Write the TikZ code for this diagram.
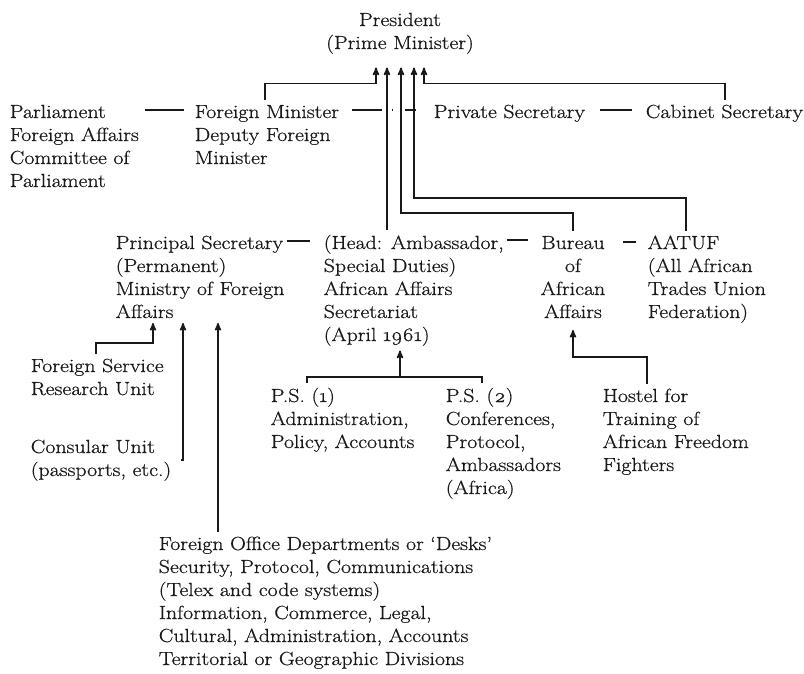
\documentclass[tikz,border=0pt]{standalone}
\usepackage{fontspec}
\setmainfont{Latin Modern Roman}[FakeStretch=1.15, FakeBold=0.7]
\usepackage{tikz}
\usetikzlibrary{arrows}
\definecolor{ink}{RGB}{25,25,25}
\newcommand{\osn}[1]{{\addfontfeature{Numbers=OldStyle}#1}}

\begin{document}
\begin{tikzpicture}[x=1pt,y=-1pt,>=stealth',line width=1.6pt]
    \tikzstyle{unit}=[inner xsep=0pt, inner ysep=4pt, anchor=base west, align=left, text=ink, font=\fontsize{19}{23}\selectfont]
    \tikzstyle{mid}=[style=unit, anchor=base, align=center]
    \tikzstyle{link}=[draw=ink]
    \tikzstyle{feed}=[draw=ink, ->]

    \useasboundingbox (0,0) rectangle (804,673);

    % positions are given at the baseline of the last line
    \node[mid]  (pres)     at (400,49)  {President\\(Prime Minister)};
    \node[unit] (parl)     at (9,187)   {Parliament\\Foreign Affairs\\Committee of\\Parliament};
    \node[unit] (fm)       at (194,164) {Foreign Minister\\Deputy Foreign\\Minister};
    \node[unit] (privsec)  at (433,118) {Private Secretary};
    \node[unit] (cabsec)   at (645,118) {Cabinet Secretary};
    \node[unit] (prinsec)  at (115,318) {Principal Secretary\\(Permanent)\\Ministry of Foreign\\Affairs};
    \node[unit] (head)     at (323,341) {(Head: Ambassador,\\Special Duties)\\African Affairs\\Secretariat\\(April \osn{1961})};
    \node[mid]  (bureau)   at (573,318) {Bureau\\of\\African\\Affairs};
    \node[unit] (aatuf)    at (647,318) {AATUF\\(All African\\Trades Union\\Federation)};
    \node[unit] (fsru)     at (30,395)  {Foreign Service\\Research Unit};
    \node[unit] (consular) at (30,476)  {Consular Unit\\(passports, etc.)};
    \node[unit] (ps1)      at (270,448) {P.S. (\osn{1})\\Administration,\\Policy, Accounts};
    \node[unit] (ps2)      at (445,494) {P.S. (\osn{2})\\Conferences,\\Protocol,\\Ambassadors\\(Africa)};
    \node[unit] (hostel)   at (602,471) {Hostel for\\Training of\\African Freedom\\Fighters};
    \node[unit] (fod)      at (158,665) {Foreign Office Departments or `Desks'\\Security, Protocol, Communications\\(Telex and code systems)\\Information, Commerce, Legal,\\Cultural, Administration, Accounts\\Territorial or Geographic Divisions};

    % arrow heads under the President
    \foreach \n/\dx in {1/-24,2/-13,3/1,4/14,5/24}
        \coordinate (pin\n) at ([shift={(\dx pt,-9pt)}]pres.south);

    % top row
    \draw[link] ([shift={(5pt,-10pt)}]parl.north east) coordinate (d1) -- ([xshift=-10pt]d1 -| fm.west);
    \draw[link] ([shift={(12pt,-10pt)}]fm.north east) -- ++(30pt,0) ++(10pt,0) -- ++(1.5pt,0) ++(12pt,0) -- ++(11pt,0);
    \draw[link] ([shift={(14pt,-10pt)}]privsec.north east) coordinate (d2) -- ([xshift=-13pt]d2 -| cabsec.west);
    \draw[feed] (fm.north -| 265,0) |- ([yshift=-16pt]pin1) -- (pin1);
    \draw[feed] (head.north -| pin2) -- (pin2);
    \draw[feed] (bureau.north) |- (401,213) -- (pin3);
    \draw[feed] (aatuf.north -| 686,0) |- (414,198) -- (pin4);
    \draw[feed] (cabsec.north -| 725,0) |- ([yshift=-16pt]pin5) -- (pin5);

    % second row
    \draw[link] ([shift={(2pt,-10pt)}]prinsec.north east) coordinate (d3) -- ([xshift=-13pt]d3 -| head.west);
    \draw[link] ([shift={(2pt,-10pt)}]head.north east) coordinate (d4) -- ([xshift=-12pt]d4 -| bureau.west);
    \draw[link] ([shift={(17pt,-11pt)}]bureau.north east) coordinate (d5) -- ([xshift=-11pt]d5 -| aatuf.west);

    % units below
    \draw[feed] (fsru.north -| 96,0) |- (153,343) -- (prinsec.south -| 153,0);
    \draw[feed] ([xshift=9pt]consular.east) -| (prinsec.south -| 183,0);
    \draw[feed] (fod.north -| 218,0) -- (prinsec.south -| 218,0);
    \draw[link] (ps1.north -| 307,0) |- (482,377) -- (ps2.north -| 482,0);
    \draw[feed] (400,377) -- (head.south -| 400,0);
    \draw[feed, shorten >=7pt] (hostel.north -| 647,0) |- (573,357) -- (bureau.south);
\end{tikzpicture}
\end{document}
